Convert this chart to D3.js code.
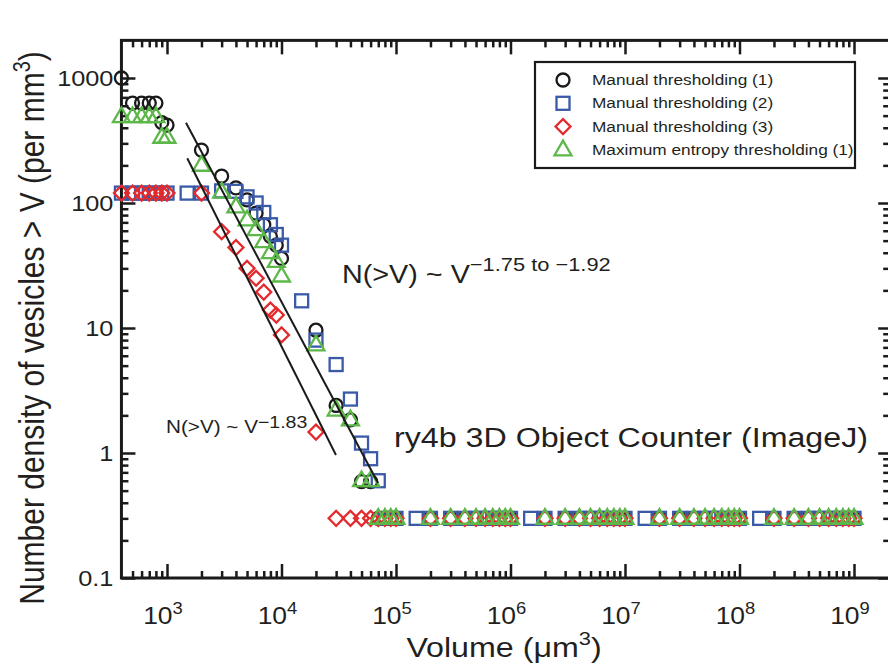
<!DOCTYPE html>
<html>
<head>
<meta charset="utf-8">
<script src="https://cdnjs.cloudflare.com/ajax/libs/d3/7.8.5/d3.min.js"></script>
<style>
  body { margin: 0; background: #fff; }
  svg { display: block; font-family: "Liberation Sans", Arial, sans-serif; }
</style>
</head>
<body>
<svg width="888" height="665"></svg>
<script>
// volumes (um^3) where the cumulative densities are sampled
var volumes = [400, 500, 600, 700, 800, 900,
  1e3, 2e3, 3e3, 4e3, 5e3, 6e3, 7e3, 8e3, 9e3,
  1e4, 2e4, 3e4, 4e4, 5e4, 6e4, 7e4, 8e4, 9e4,
  1e5, 2e5, 3e5, 4e5, 5e5, 6e5, 7e5, 8e5, 9e5,
  1e6, 2e6, 3e6, 4e6, 5e6, 6e6, 7e6, 8e6, 9e6,
  1e7, 2e7, 3e7, 4e7, 5e7, 6e7, 7e7, 8e7, 9e7,
  1e8, 2e8, 3e8, 4e8, 5e8, 6e8, 7e8, 8e8, 9e8,
  1e9];

// the second manual set has extra samples at 1.5 x 10^n
var volumesSq = [400, 500, 600, 700, 800, 900,
  1e3, 1.5e3, 2e3, 3e3, 4e3, 5e3, 6e3, 7e3, 8e3, 9e3,
  1e4, 1.5e4, 2e4, 3e4, 4e4, 5e4, 6e4, 7e4, 8e4, 9e4,
  1e5, 1.5e5, 2e5, 3e5, 4e5, 5e5, 6e5, 7e5, 8e5, 9e5,
  1e6, 1.5e6, 2e6, 3e6, 4e6, 5e6, 6e6, 7e6, 8e6, 9e6,
  1e7, 1.5e7, 2e7, 3e7, 4e7, 5e7, 6e7, 7e7, 8e7, 9e7,
  1e8, 1.5e8, 2e8, 3e8, 4e8, 5e8, 6e8, 7e8, 8e8, 9e8,
  1e9];

var manual1 = [1000, 630, 630, 630, 630, 440,
  420, 265, 164, 132, 106, 83, 67, 54, 46,
  36, 9.6, 2.4, 1.84, 0.59, 0.59, 0.3, 0.3, 0.3,
  0.3, 0.3, 0.3, 0.3, 0.3, 0.3, 0.3, 0.3, 0.3,
  0.3, 0.3, 0.3, 0.3, 0.3, 0.3, 0.3, 0.3, 0.3,
  0.3, 0.3, 0.3, 0.3, 0.3, 0.3, 0.3, 0.3, 0.3,
  0.3, 0.3, 0.3, 0.3, 0.3, 0.3, 0.3, 0.3, 0.3,
  0.3];

var manual2 = [120, 120, 120, 120, 120, 120,
  120, 120, 120, 125, 124, 112, 100, 84, 67, 56,
  46, 16.5, 8.0, 5.1, 2.7, 1.2, 0.9, 0.6, 0.3, 0.3,
  0.3, 0.3, 0.3, 0.3, 0.3, 0.3, 0.3, 0.3, 0.3, 0.3,
  0.3, 0.3, 0.3, 0.3, 0.3, 0.3, 0.3, 0.3, 0.3, 0.3,
  0.3, 0.3, 0.3, 0.3, 0.3, 0.3, 0.3, 0.3, 0.3, 0.3,
  0.3, 0.3, 0.3, 0.3, 0.3, 0.3, 0.3, 0.3, 0.3, 0.3,
  0.3];

var manual3 = [120, 120, 120, 120, 120, 120,
  120, 120, 59, 44, 30, 25, 19.4, 13.9, 12.7,
  8.8, 1.47, 0.3, 0.3, 0.3, 0.3, 0.3, 0.3, 0.3,
  0.3, 0.3, 0.3, 0.3, 0.3, 0.3, 0.3, 0.3, 0.3,
  0.3, 0.3, 0.3, 0.3, 0.3, 0.3, 0.3, 0.3, 0.3,
  0.3, 0.3, 0.3, 0.3, 0.3, 0.3, 0.3, 0.3, 0.3,
  0.3, 0.3, 0.3, 0.3, 0.3, 0.3, 0.3, 0.3, 0.3,
  0.3];

var maxEntropy = [490, 490, 490, 490, 490, 335,
  335, 200, 122, 93, 73, 61, 49, 40, 34,
  26, 7.3, 2.2, 1.84, 0.6, 0.6, 0.3, 0.3, 0.3,
  0.3, 0.3, 0.3, 0.3, 0.3, 0.3, 0.3, 0.3, 0.3,
  0.3, 0.3, 0.3, 0.3, 0.3, 0.3, 0.3, 0.3, 0.3,
  0.3, 0.3, 0.3, 0.3, 0.3, 0.3, 0.3, 0.3, 0.3,
  0.3, 0.3, 0.3, 0.3, 0.3, 0.3, 0.3, 0.3, 0.3,
  0.3];

// power-law fits (end points)
var fitSteepV = [1465, 69700], fitSteepN = [439, 0.575];
var fitLowV = [1503, 29900], fitLowN = [228, 0.964];

var legendNames = ["Manual thresholding (1)", "Manual thresholding (2)",
  "Manual thresholding (3)", "Maximum entropy thresholding (1)"];
var xMajor = [1e3, 1e4, 1e5, 1e6, 1e7, 1e8, 1e9];
var xMajorExp = ["3", "4", "5", "6", "7", "8", "9"];
var yMajor = [0.1, 1, 10, 100, 1000];
var yMajorLabels = ["0.1", "1", "10", "100", "1000"];

var svg = d3.select("svg");
var SX = 1.15; // lettering in the original is stretched sideways

var x = d3.scaleLog().domain([1e3, 1e9]).range([167, 854]);
var y = d3.scaleLog().domain([0.1, 1000]).range([578, 78]);
var xLo = 400, xHi = 2.2e9, yLo = 0.1, yHi = 2000;

function minorTicks(lo, hi) {
  var out = [];
  for (var k = -2; k <= 10; k++) {
    for (var m = 2; m <= 9; m++) {
      var v = m * Math.pow(10, k);
      if (v > lo * 1.001 && v < hi * 0.999) out.push(v);
    }
  }
  return out;
}
var xMinor = minorTicks(xLo, 1.9e9), yMinor = minorTicks(yLo, yHi);

function ticks(axis) {
  return function(g) {
    g.call(axis);
    g.select(".domain").remove();
    g.selectAll(".tick line").attr("stroke", "#1a1a1a").attr("stroke-width", 2.5);
    g.selectAll(".tick text").remove();
  };
}

var axes = svg.append("g");
axes.append("g").attr("transform", "translate(0," + y(yLo) + ")")
  .call(ticks(d3.axisBottom(x).tickValues(xMajor).tickSize(-14)));
axes.append("g").attr("transform", "translate(0," + y(yLo) + ")")
  .call(ticks(d3.axisBottom(x).tickValues(xMinor).tickSize(-7)));
axes.append("g").attr("transform", "translate(0," + y(yHi) + ")")
  .call(ticks(d3.axisTop(x).tickValues(xMajor).tickSize(-14)));
axes.append("g").attr("transform", "translate(0," + y(yHi) + ")")
  .call(ticks(d3.axisTop(x).tickValues(xMinor).tickSize(-7)));
axes.append("g").attr("transform", "translate(" + x(xLo) + ",0)")
  .call(ticks(d3.axisLeft(y).tickValues(yMajor).tickSize(-14)));
axes.append("g").attr("transform", "translate(" + x(xLo) + ",0)")
  .call(ticks(d3.axisLeft(y).tickValues(yMinor).tickSize(-7)));
axes.append("g").attr("transform", "translate(" + x(xHi) + ",0)")
  .call(ticks(d3.axisRight(y).tickValues(yMajor).tickSize(-15)));
axes.append("g").attr("transform", "translate(" + x(xHi) + ",0)")
  .call(ticks(d3.axisRight(y).tickValues(yMinor).tickSize(-10)));

axes.append("rect")
  .attr("x", x(xLo)).attr("y", y(yHi))
  .attr("width", x(xHi) - x(xLo)).attr("height", y(yLo) - y(yHi))
  .attr("fill", "none").attr("stroke", "#1a1a1a").attr("stroke-width", 3);

function txt(px, py, size, anchor) {
  return svg.append("text")
    .attr("transform", "translate(" + px + "," + py + ") scale(" + SX + ",1)")
    .attr("font-size", size).attr("text-anchor", anchor || "start")
    .attr("fill", "#231f20");
}

// tick labels
yMajor.forEach(function(v, i) {
  txt(x(xLo) - 8, y(v) + 8, 22, "end").text(yMajorLabels[i]);
});
xMajor.forEach(function(v, i) {
  var t = txt(x(v) - 4, 624, 23, "middle");
  t.append("tspan").text("10");
  t.append("tspan").attr("dy", -10).attr("font-size", 16).text(xMajorExp[i]);
});

// axis titles
var xt = txt(504, 657, 28, "middle");
xt.append("tspan").text("Volume (\u03bcm");
xt.append("tspan").attr("dy", -12).attr("font-size", 19).text("3");
xt.append("tspan").attr("dy", 12).text(")");

var yt = svg.append("text")
  .attr("transform", "translate(44,328) scale(" + SX + ",1) rotate(-90)")
  .attr("font-size", 30).attr("text-anchor", "middle").attr("fill", "#231f20");
yt.append("tspan").text("Number density of vesicles > V (per mm");
yt.append("tspan").attr("dy", -12).attr("font-size", 20).text("3");
yt.append("tspan").attr("dy", 12).text(")");

// markers
var colors = ["#1a1a1a", "#3a5aa8", "#e42a2c", "#5cb848"];
var diamondPath = d3.symbol(d3.symbolSquare, 112)();
var trianglePath = d3.symbol(d3.symbolTriangle, 124)();

function marker(g, kind, cx, cy) {
  if (kind === 0) {
    g.append("circle").attr("cx", cx).attr("cy", cy).attr("r", 6.5)
      .attr("fill", "none").attr("stroke", colors[0]).attr("stroke-width", 2.3);
  } else if (kind === 1) {
    g.append("rect").attr("x", cx - 6.5).attr("y", cy - 6.5).attr("width", 13).attr("height", 13)
      .attr("fill", "none").attr("stroke", colors[1]).attr("stroke-width", 2.3);
  } else if (kind === 2) {
    g.append("path").attr("d", diamondPath)
      .attr("transform", "translate(" + cx + "," + cy + ") rotate(45)")
      .attr("fill", "none").attr("stroke", colors[2]).attr("stroke-width", 2.3);
  } else {
    g.append("path").attr("d", trianglePath)
      .attr("transform", "translate(" + cx + "," + (cy + 0.5) + ")")
      .attr("fill", "none").attr("stroke", colors[3]).attr("stroke-width", 2.3);
  }
}

var series = [
  {vols: volumes, vals: manual1},
  {vols: volumesSq, vals: manual2},
  {vols: volumes, vals: manual3},
  {vols: volumes, vals: maxEntropy}
];
var plot = svg.append("g");
series.forEach(function(s, k) {
  var g = plot.append("g");
  s.vols.forEach(function(v, i) { marker(g, k, x(v), y(s.vals[i])); });
});

// fit lines
var line = d3.line().x(function(d) { return x(d[0]); }).y(function(d) { return y(d[1]); });
[[fitSteepV, fitSteepN], [fitLowV, fitLowN]].forEach(function(f) {
  plot.append("path").attr("d", line(d3.zip(f[0], f[1])))
    .attr("stroke", "#1a1a1a").attr("stroke-width", 2).attr("fill", "none");
});

// annotations
var a1 = txt(342, 283, 25);
a1.append("tspan").text("N(>V) ~ V");
a1.append("tspan").attr("dy", -12).attr("font-size", 19).text("\u22121.75 to \u22121.92");
var a2 = txt(166, 433, 18);
a2.append("tspan").text("N(>V) ~ V");
a2.append("tspan").attr("dy", -5).attr("font-size", 17).text("\u22121.83");
txt(394, 447, 28).text("ry4b 3D Object Counter (ImageJ)");

// legend
var leg = svg.append("g");
leg.append("rect").attr("x", 535).attr("y", 62).attr("width", 320).attr("height", 106)
  .attr("fill", "#fff").attr("stroke", "#1a1a1a").attr("stroke-width", 2.2);
legendNames.forEach(function(name, i) {
  var ry = 80 + i * 23.3;
  marker(leg, i, 563, ry);
  leg.append("text")
    .attr("transform", "translate(592," + (ry + 5) + ") scale(" + SX + ",1)")
    .attr("font-size", 15).attr("fill", "#231f20").text(name);
});
</script>
</body>
</html>
